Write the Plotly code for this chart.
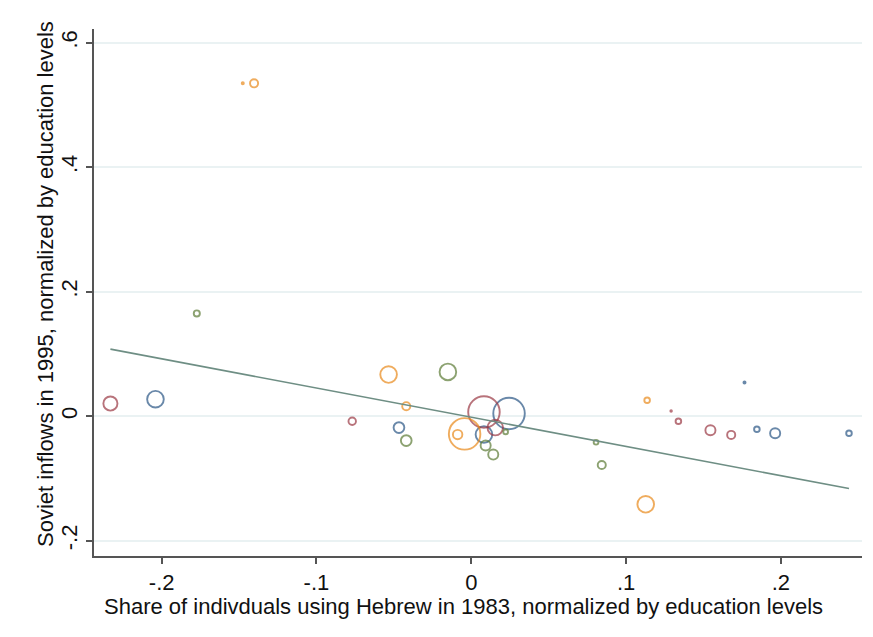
import plotly.graph_objects as go

# ---- data ----
blue_x = [-0.2040, -0.0467, 0.0244, 0.0082, 0.1765, 0.1845, 0.1963, 0.2440]
blue_y = [0.0273, -0.0182, 0.0043, -0.0294, 0.0542, -0.0209, -0.0273, -0.0273]
blue_w = [86, 40, 279, 86, 4, 14, 36, 14]

red_x = [-0.2331, -0.0769, 0.0082, 0.0155, 0.1291, 0.1338, 0.1545, 0.1679]
red_y = [0.0204, -0.0080, 0.0069, -0.0182, 0.0085, -0.0080, -0.0225, -0.0300]
red_w = [64, 22, 279, 76, 3, 14, 36, 25]

green_x = [-0.1773, -0.0420, -0.0151, 0.0222, 0.0093, 0.0142, 0.0806, 0.0843]
green_y = [0.1651, -0.0391, 0.0712, -0.0252, -0.0470, -0.0616, -0.0418, -0.0783]
green_w = [16, 40, 86, 11, 36, 36, 11, 25]

orange_x = [-0.1476, -0.1403, -0.0534, -0.0420, -0.0043, -0.0088, 0.1136, 0.1127]
orange_y = [0.5347, 0.5347, 0.0670, 0.0161, -0.0284, -0.0294, 0.0257, -0.1414]
orange_w = [4, 25, 86, 25, 279, 32, 14, 86]

fit_intercept = -0.0016
fit_slope = -0.4695

x_ticks = [-0.2, -0.1, 0, 0.1, 0.2]
x_ticklabels = ["-.2", "-.1", "0", ".1", ".2"]
y_ticks = [-0.2, 0, 0.2, 0.4, 0.6]
y_ticklabels = ["-.2", "0", ".2", ".4", ".6"]

x_title = "Share of indivduals using Hebrew in 1983, normalized by education levels"
y_title = "Soviet inflows in 1995, normalized by education levels"

# ---- figure ----
LW = 1.9
FONT = "Liberation Sans, Arial, sans-serif"
FS = 22

OFF = 8  # default page body margin
W, H = 873 - OFF, 637 - OFF
ML, MT = 94 - OFF, 29 - OFF
PW, PH = 768, 527
MR = W - ML - PW
MB = H - MT - PH
X0 = ML            # plot-area left in figure px
YB = MT + PH       # plot-area bottom in figure px

def sizes(ws):
    return [max(2 * (w ** 0.5) - LW, 1.0) for w in ws]

fig = go.Figure()
groups = [
    (blue_x, blue_y, blue_w, "#2a5585"),
    (red_x, red_y, red_w, "#9a3843"),
    (green_x, green_y, green_w, "#5b7a34"),
    (orange_x, orange_y, orange_w, "#e8891a"),
]
for gx, gy, gw, col in groups:
    fig.add_trace(go.Scatter(
        x=gx, y=gy, mode="markers",
        marker=dict(symbol="circle-open", size=sizes(gw), color=col,
                    line=dict(width=LW, color=col)),
        showlegend=False, hoverinfo="x+y"))

all_x = blue_x + red_x + green_x + orange_x
xmin, xmax = min(all_x), max(all_x)
fig.add_trace(go.Scatter(
    x=[xmin, xmax],
    y=[fit_intercept + fit_slope * xmin, fit_intercept + fit_slope * xmax],
    mode="lines", line=dict(color="#6e8e84", width=1.6),
    showlegend=False, hoverinfo="skip"))

axis_common = dict(
    showline=True, linecolor="#555555", linewidth=1.5,
    ticks="outside", ticklen=6, tickwidth=1.5, tickcolor="#555555",
    zeroline=False, automargin=False,
    tickfont=dict(family=FONT, size=FS, color="#111111"),
)

fig.update_layout(
    width=W, height=H,
    margin=dict(l=ML, r=MR, t=MT, b=MB, autoexpand=False),
    paper_bgcolor="white", plot_bgcolor="white",
    xaxis=dict(range=[-0.2437, 0.2524], tickvals=x_ticks, ticktext=x_ticklabels,
               showgrid=False, **axis_common),
    yaxis=dict(range=[-0.2245, 0.622], tickvals=y_ticks, ticktext=y_ticklabels,
               showgrid=True, gridcolor="#eaf2f3", gridwidth=1.5,
               tickangle=-90, **axis_common),
    annotations=[
        dict(text=x_title, xref="paper", yref="paper", x=(463 - OFF - X0) / PW,
             y=-((606 - OFF) - YB) / PH, xanchor="center", yanchor="middle",
             showarrow=False, font=dict(family=FONT, size=FS, color="#111111")),
        dict(text=y_title, xref="paper", yref="paper", x=-(X0 - (45 - OFF)) / PW,
             y=(YB - (284 - OFF)) / PH, xanchor="center", yanchor="middle",
             textangle=-90, showarrow=False,
             font=dict(family=FONT, size=FS, color="#111111")),
    ],
)

fig.write_html("out.html")
